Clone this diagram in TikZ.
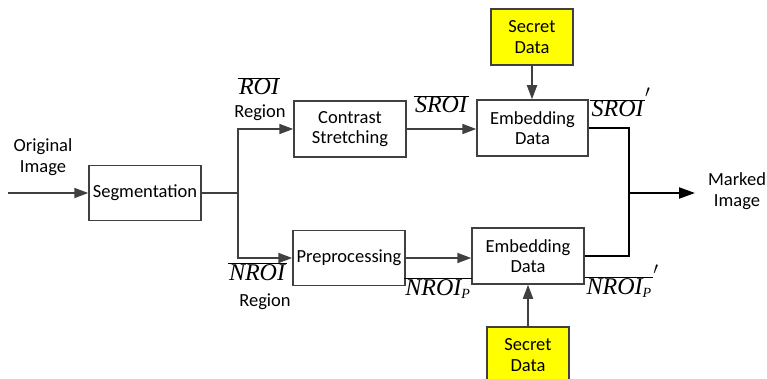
\documentclass[tikz,border=0pt]{standalone}
\usepackage{fontspec}
\setmainfont{Carlito}
\newfontfamily\tms{Liberation Serif}
\usetikzlibrary{arrows.meta}
% overlined italic signal names, with optional subscript P and prime
\newcommand{\sig}[1]{$\overline{\hbox{\kern1.5pt\tms\itshape #1\kern1.5pt}}$}
\newcommand{\sigp}[1]{$\overline{\hbox{\kern1.5pt\tms\itshape #1$_{\hbox{\tms\itshape\fontsize{14}{14}\selectfont P}}$\kern1.5pt}}$}
\newcommand{\tick}{\raisebox{10pt}{$^{\prime}$}}
\definecolor{linegray}{HTML}{404040}
\definecolor{secretyellow}{HTML}{FFFF00}
\begin{document}
\begin{tikzpicture}[x=1pt,y=-1pt,
  every node/.style={font=\fontsize{18.5}{20.5}\selectfont, inner sep=0pt, align=center},
  blockbox/.style={draw=linegray, line width=1.5pt, fill=white},
  secretbox/.style={draw=linegray, line width=1.5pt, fill=secretyellow},
  sigtext/.style={font=\fontsize{24}{24}\selectfont, anchor=base},
  flow/.style={draw=linegray, line width=1.8pt, -{Triangle[length=14pt,width=10pt]}},
  wire/.style={draw=linegray, line width=1.8pt},
  outwire/.style={draw=black, line width=2.2pt},
  outflow/.style={draw=black, line width=2.2pt, -{Triangle[length=16pt,width=11pt]}}]
\useasboundingbox (0,0) rectangle (767,379);

% processing blocks
\node[blockbox, minimum width=112pt, minimum height=55pt] (seg) at (145,193) {Segmentation};
\node[blockbox, minimum width=112pt, minimum height=56pt] (cs) at (350,129) {Contrast\\Stretching};
\node[blockbox, minimum width=112pt, minimum height=55pt] (pp) at (349,258) {Preprocessing};
\node[blockbox, minimum width=111pt, minimum height=56pt] (et) at (532.5,128) {Embedding\\Data};
\node[blockbox, minimum width=112pt, minimum height=56pt] (eb) at (528,256) {Embedding\\Data};
\node[secretbox, minimum width=82pt, minimum height=56pt] (st) at (532,37) {Secret\\Data};
\node[secretbox, minimum width=82pt, minimum height=56pt] (sb) at (528,355) {Secret\\Data};

% free texts
\node (orig) at (43,157) {Original\\Image};
\node (mk) at (737,191) {Marked\\Image};
\node[sigtext] (roi) at (259,95) {\sig{ROI}};
\node[anchor=base] (roireg) at (260,118) {Region};
\node[sigtext] (nroi) at (257,280) {\sig{NROI}};
\node[anchor=base] (nroireg) at (265,306) {Region};
\node[sigtext] (sroi) at (441,113) {\sig{SROI}};
\node[sigtext] (nroip) at (438,295) {\sigp{NROI}};
\node[sigtext, anchor=base west] (sroiq) at (590,117) {\sig{SROI}\tick};
\node[sigtext, anchor=base west] (nroipq) at (585,294) {\sigp{NROI}\tick};

% connectors
\coordinate (src) at (8,193);
\coordinate (split) at (238,193);
\coordinate (jn) at (629,193);
\coordinate (dst) at (695,193);
\draw[flow] (src) -- (seg.west);
\draw[wire] (seg.east) -- (split);
\draw[flow] (split) |- (cs.west);
\draw[flow] (split) |- (pp.west);
\draw[flow] (cs.east) -- (cs.east -| et.west);
\draw[flow] (pp.east) -- (pp.east -| eb.west);
\draw[flow] (st.south) -- (st.south |- et.north);
\draw[flow] (sb.north) -- (sb.north |- eb.south);
\draw[outwire] (et.east) -| (jn) |- (eb.east);
\draw[outflow] (jn) -- (dst);
\end{tikzpicture}
\end{document}
